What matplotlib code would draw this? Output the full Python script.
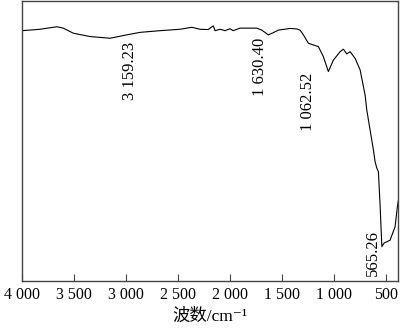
"""
IR spectrum (transmittance vs. wavenumber) with labelled absorption bands.
Values read off the reference picture.
"""
import numpy as np
import matplotlib
matplotlib.use("Agg")
import matplotlib.pyplot as plt
from matplotlib.ticker import FixedLocator, FuncFormatter

plt.rcParams['font.family'] = ['Liberation Serif', 'Noto Sans CJK SC', 'DejaVu Sans']

# ---- spectrum (wavenumber cm^-1, transmittance a.u.) ----
wavenumber = [4000, 3827, 3666, 3603, 3507, 3346, 3154, 2993, 2865, 2673,
              2481, 2368, 2288, 2212, 2161, 2144, 2096, 2048, 2000, 1971,
              1904, 1743, 1695, 1632, 1584, 1536, 1423, 1356, 1327, 1295,
              1247, 1199, 1151, 1103, 1055, 1007, 942, 911, 878, 846,
              798, 750, 702, 686, 654, 622, 606, 590, 574, 558,
              541, 519, 462, 414, 392, 382]
transmittance = [89.4, 89.9, 90.8, 90.3, 88.5, 87.3, 86.7, 87.9, 88.8, 89.4,
                 89.9, 90.6, 89.9, 89.8, 91.1, 89.4, 89.9, 89.4, 90.1, 89.4,
                 90.3, 90.3, 89.6, 87.9, 88.7, 89.6, 90.2, 90.0, 89.6, 87.9,
                 84.9, 84.3, 83.7, 80.1, 74.8, 78.9, 81.9, 82.8, 81.1, 81.9,
                 79.5, 75.4, 66.4, 61.1, 53.9, 46.8, 42.6, 40.4, 39.0, 27.1,
                 12.3, 13.6, 14.6, 19.4, 26.5, 28.9]

# band labels: text, x position of label, top of label
peak_labels = ["3 159.23", "1 630.40", "1 062.52", "565.26"]
peak_label_x = [2962, 1711, 1247, 622]
peak_label_y = [85.4, 86.8, 74.3, 18.2]

xticks = [4000, 3500, 3000, 2500, 2000, 1500, 1000, 500]


def thousands(v, pos):
    v = int(round(v))
    if v >= 1000:
        return f"{v // 1000} {v % 1000:03d}"
    return str(v)


fig = plt.figure(figsize=(4.0, 3.28), dpi=100)
ax = fig.add_axes([0.055, 0.143, 0.941, 0.854])

ax.plot(wavenumber, transmittance, color="black", linewidth=0.8)

for txt, x, y in zip(peak_labels, peak_label_x, peak_label_y):
    ax.text(x, y, txt, rotation=90, ha="center", va="top", fontsize=12)

ax.set_xlim(4000, 382)
ax.set_ylim(0, 100)
ax.xaxis.set_major_locator(FixedLocator(xticks))
ax.xaxis.set_major_formatter(FuncFormatter(thousands))
ax.tick_params(axis="x", direction="in", length=5, width=0.8,
               labelsize=11.5, pad=4, color="#444444")
ax.set_yticks([])
for sp in ax.spines.values():
    sp.set_color("#444444")
    sp.set_linewidth(1.0)

ax.set_xlabel("波数/cm⁻¹", fontsize=12.5, labelpad=4)

fig.savefig("out.png", dpi=100)
